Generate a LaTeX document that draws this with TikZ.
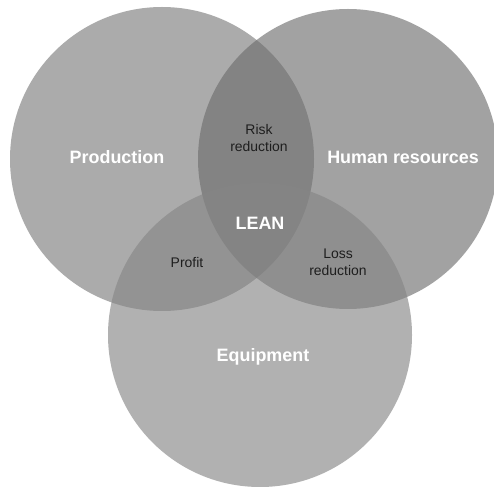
\documentclass[tikz,border=0pt]{standalone}
\usepackage{fontspec}
\setmainfont{Liberation Sans}
\usepackage{tikz}
\usepackage{xcolor}
\usetikzlibrary{positioning}

\definecolor{prodgray}{RGB}{122,122,122}
\definecolor{humangray}{RGB}{109,109,109}
\definecolor{equipgray}{RGB}{133,133,133}
\definecolor{labeltext}{RGB}{30,30,30}

\begin{document}
\begin{tikzpicture}[x=1bp, y=-1bp]
        \useasboundingbox (0, 0) rectangle (494, 487);
        \fill[white] (0, 0) rectangle (494, 487);

        \fill[prodgray, fill opacity=0.63] (162, 159) circle (152);
        \fill[humangray, fill opacity=0.63] (348, 159) circle (150);
        \fill[equipgray, fill opacity=0.63] (260, 335) circle (152);

        \node[white, font=\fontsize{18}{20}\selectfont\bfseries] (p) at (117, 157) {Production};
        \node[white, font=\fontsize{18}{20}\selectfont\bfseries] (h) at (403, 157) {Human resources};
        \node[white, font=\fontsize{18}{20}\selectfont\bfseries] (e) at (263, 357) {Equipment};
        \node[white, font=\fontsize{18}{20}\selectfont\bfseries] (l) at (260, 223) {LEAN};

        \node[labeltext, align=center, font=\fontsize{14}{17}\selectfont] (r) at (259, 138) {Risk\\reduction};
        \node[labeltext, font=\fontsize{14}{17}\selectfont] (f) at (187, 263) {Profit};
        \node[labeltext, align=center, font=\fontsize{14}{17}\selectfont] (s) at (338, 262) {Loss\\reduction};
    \end{tikzpicture}
\end{document}
